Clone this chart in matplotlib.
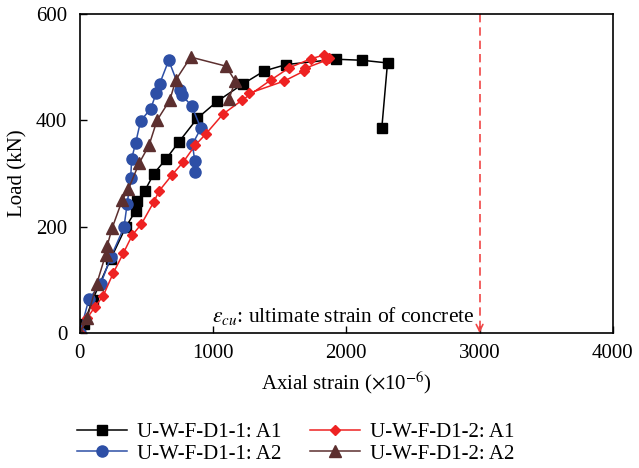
import matplotlib
matplotlib.use('Agg')
import matplotlib.pyplot as plt

plt.rcParams['font.family'] = ['Liberation Serif', 'DejaVu Serif']
plt.rcParams['mathtext.fontset'] = 'stix'

# U-W-F-D1-1: A1
a1_x = [0, 30, 95, 231, 344, 419, 431, 486, 556, 649, 745, 882, 1032, 1221,
        1384, 1549, 1925, 2120, 2309, 2266]
a1_y = [0, 17, 62, 139, 199, 230, 248, 267, 300, 328, 360, 404, 436, 468,
        493, 505, 515, 513, 508, 385]

# U-W-F-D1-1: A2
a2_x = [0, 68, 156, 231, 331, 355, 381, 389, 419, 456, 532, 574, 599, 667,
        752, 767, 840, 908, 845, 862, 862]
a2_y = [0, 64, 92, 142, 199, 243, 291, 328, 358, 399, 422, 452, 469, 513,
        457, 447, 427, 385, 355, 324, 303]

# U-W-F-D1-2: A1
b1_x = [0, 55, 110, 175, 251, 326, 393, 462, 556, 594, 694, 777, 865, 944,
        1075, 1218, 1434, 1572, 1735, 1835, 1872, 1848, 1692, 1684, 1534, 1271]
b1_y = [0, 28, 48, 70, 113, 150, 184, 205, 247, 267, 298, 322, 353, 374,
        412, 438, 476, 499, 516, 523, 518, 513, 498, 493, 474, 451]

# U-W-F-D1-2: A2
b2_x = [0, 55, 126, 193, 205, 243, 318, 363, 444, 519, 579, 675, 720, 832,
        1096, 1166, 1120]
b2_y = [0, 28, 92, 147, 164, 198, 250, 270, 319, 353, 400, 438, 476, 519,
        502, 474, 441]

eps_cu = 3000

fig = plt.figure(figsize=(6.39, 4.68), dpi=100)
ax = fig.add_axes([0.125, 0.2885, 0.834, 0.6815])

ax.plot(a1_x, a1_y, '-s', color='black', lw=1.1, ms=7.5, label='U-W-F-D1-1: A1')
ax.plot(a2_x, a2_y, '-o', color='#2d4fa6', lw=1.1, ms=8, label='U-W-F-D1-1: A2')
ax.plot(b1_x, b1_y, '-D', color='#ee2222', lw=1.1, ms=5.5, label='U-W-F-D1-2: A1')
ax.plot(b2_x, b2_y, '-^', color='#5c2f2f', lw=1.1, ms=8, label='U-W-F-D1-2: A2')

# ultimate strain line
ax.plot([eps_cu, eps_cu], [8, 600], ls=(0, (5, 3)), color='#f04545', lw=1.2)
ax.annotate('', xy=(eps_cu, 0), xytext=(eps_cu, 12),
            arrowprops=dict(arrowstyle='->', color='#f04545', lw=1.2,
                            mutation_scale=12, shrinkA=0, shrinkB=0))
ax.text(eps_cu - 40, 32, r'$\varepsilon_{cu}$: ultimate strain of concrete',
        ha='right', va='center', fontsize=15.5)

ax.set_xlim(0, 4000)
ax.set_ylim(0, 600)
ax.set_xticks([0, 1000, 2000, 3000, 4000])
ax.set_yticks([0, 200, 400, 600])
ax.tick_params(direction='in', labelsize=15, length=5, width=1)
ax.tick_params(axis='x', pad=8)
ax.tick_params(axis='y', pad=9)
for s in ax.spines.values():
    s.set_linewidth(1.2)
ax.set_xlabel(r'Axial strain ($\times$10$^{-6}$)', fontsize=15, labelpad=5)
ax.set_ylabel('Load (kN)', fontsize=15, labelpad=6)

fig.legend(loc='upper left', ncol=2, frameon=False, fontsize=15,
           handlelength=2.4, handletextpad=0.45, columnspacing=1.4,
           labelspacing=0.1, borderaxespad=0,
           bbox_to_anchor=(0.108, 1 - 414 / 468), bbox_transform=fig.transFigure)

fig.savefig('out.png', dpi=100)
